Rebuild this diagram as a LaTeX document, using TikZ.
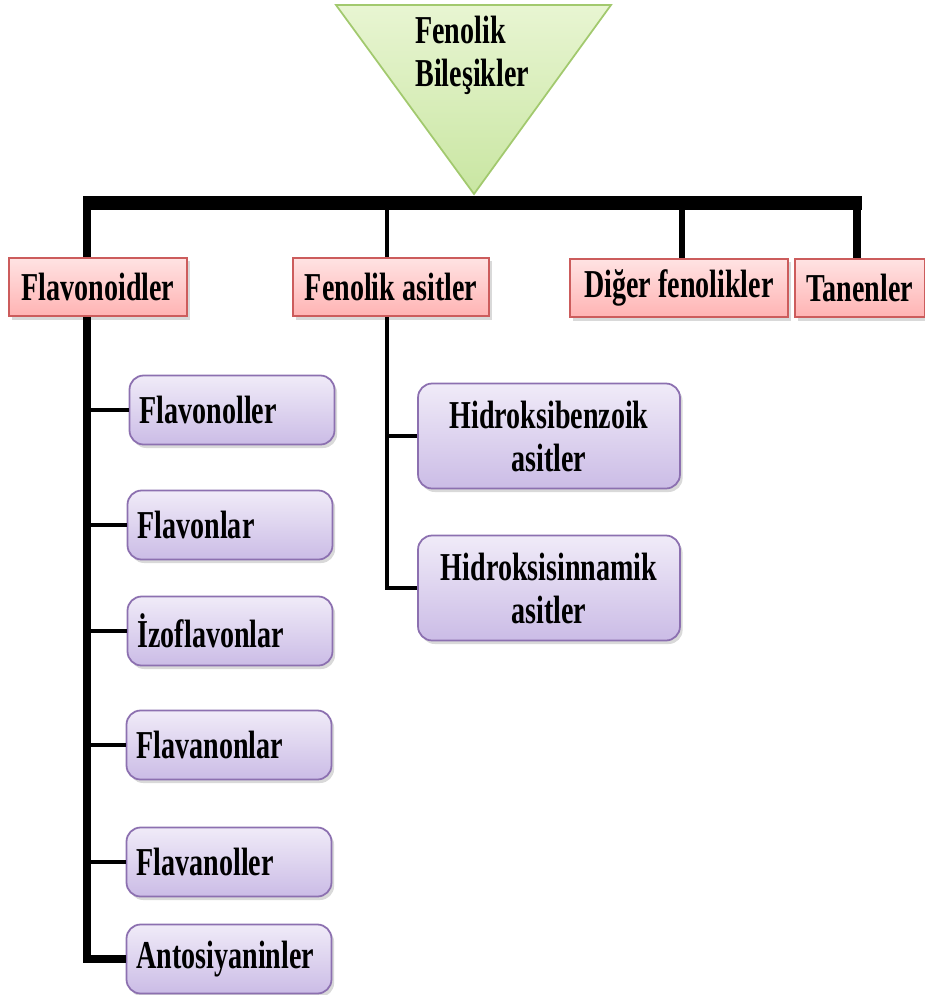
\documentclass[tikz,border=0pt]{standalone}
\usepackage{fontspec}
\newfontfamily\kutufont{Liberation Serif}[FakeStretch=0.71]
\usetikzlibrary{shadows}

\definecolor{yesilac}{HTML}{E8F5D2}
\definecolor{yesilkoyu}{HTML}{C9E6A2}
\definecolor{yesilcizgi}{HTML}{A2C96E}
\definecolor{pembeac}{HTML}{FFE3E3}
\definecolor{pembekoyu}{HTML}{FFB3B3}
\definecolor{kirmizicizgi}{HTML}{CC5C5C}
\definecolor{morac}{HTML}{F0EBF8}
\definecolor{morkoyu}{HTML}{CBBCE6}
\definecolor{morcizgi}{HTML}{8C70B0}

\begin{document}
\begin{tikzpicture}[
    x=0.02cm, y=-0.02cm,
    % Styles
    yazi/.style={font=\kutufont\bfseries\fontsize{22.5}{24.5}\selectfont},
    golge/.style={drop shadow={shadow xshift=1.5pt, shadow yshift=-2pt, opacity=0.3, fill=gray}},
    grup/.style={yazi, golge, draw=kirmizicizgi, line width=1pt, top color=pembeac,
        bottom color=pembekoyu, minimum width=#1, minimum height=1.17cm, inner sep=0pt},
    alt/.style={yazi, golge, draw=morcizgi, line width=1pt, rounded corners=8pt,
        top color=morac, bottom color=morkoyu, text width=3.7cm, inner xsep=0.2cm,
        minimum height=1.38cm, align=left},
    altiki/.style={alt, text width=4.84cm, minimum height=2.1cm, align=center},
    bar/.style={line width=8.5pt},
    dal/.style={line width=#1}
]

\useasboundingbox (0,0) rectangle (925,995);

% --- Root triangle ---
\draw[draw=yesilcizgi, line width=1pt, top color=yesilac, bottom color=yesilkoyu]
    (336,5) -- (611,5) -- (474,194) -- cycle;
\node[yazi, anchor=north west, align=left, inner sep=0pt] (kok) at (415,16) {Fenolik\\Bileşikler};

% --- Group boxes ---
\node[grup=3.56cm] (flavonoidler) at (98,287) {Flavonoidler};
\node[grup=3.92cm] (fenolikasit) at (391,287) {Fenolik asitler};
\node[grup=4.36cm] (diger) at (679,288) {Diğer fenolikler};
\node[grup=2.6cm] (tanenler) at (860,288) {Tanenler};

% --- Flavonoid sub boxes ---
\node[alt] (flavonoller) at (232,410) {Flavonoller};
\node[alt] (flavonlar) at (230,525) {Flavonlar};
\node[alt] (izoflavonlar) at (230,631) {İzoflavonlar};
\node[alt] (flavanonlar) at (229,745) {Flavanonlar};
\node[alt] (flavanoller) at (229,862) {Flavanoller};
\node[alt] (antosiyaninler) at (229,959) {Antosiyaninler};

% --- Phenolic acid sub boxes ---
\node[altiki] (hidroksibenzoik) at (549,436) {Hidroksibenzoik\\asitler};
\node[altiki] (hidroksisinnamik) at (549,588) {Hidroksisinnamik\\asitler};

% --- Bar ---
\coordinate (barsol) at (83,203);
\coordinate (barsag) at (862,203);
\coordinate (b1) at (87,203);
\coordinate (b2) at (387,203);
\coordinate (b3) at (682,203);
\coordinate (b4) at (857,203);
\draw[bar] (barsol) -- (barsag);

% --- Bar to group boxes ---
\draw[dal=4.5pt] (b1) -- (b1 |- flavonoidler.north);
\draw[dal=2.3pt] (b2) -- (b2 |- fenolikasit.north);
\draw[dal=3.4pt] (b3) -- (b3 |- diger.north);
\draw[dal=4.5pt] (b4) -- (b4 |- tanenler.north);

% --- Flavonoid spine ---
\draw[dal=4pt] (b1 |- flavonoidler.south) |- (antosiyaninler.west);
\draw[dal=2.8pt] (b1 |- flavonoller.west) -- (flavonoller.west);
\draw[dal=2.8pt] (b1 |- flavonlar.west) -- (flavonlar.west);
\draw[dal=2.8pt] (b1 |- izoflavonlar.west) -- (izoflavonlar.west);
\draw[dal=2.8pt] (b1 |- flavanonlar.west) -- (flavanonlar.west);
\draw[dal=2.8pt] (b1 |- flavanoller.west) -- (flavanoller.west);

% --- Phenolic acid spine ---
\draw[dal=1.8pt] (b2 |- fenolikasit.south) |- (hidroksisinnamik.west);
\draw[dal=2.3pt] (b2 |- hidroksibenzoik.west) -- (hidroksibenzoik.west);

\end{tikzpicture}
\end{document}
